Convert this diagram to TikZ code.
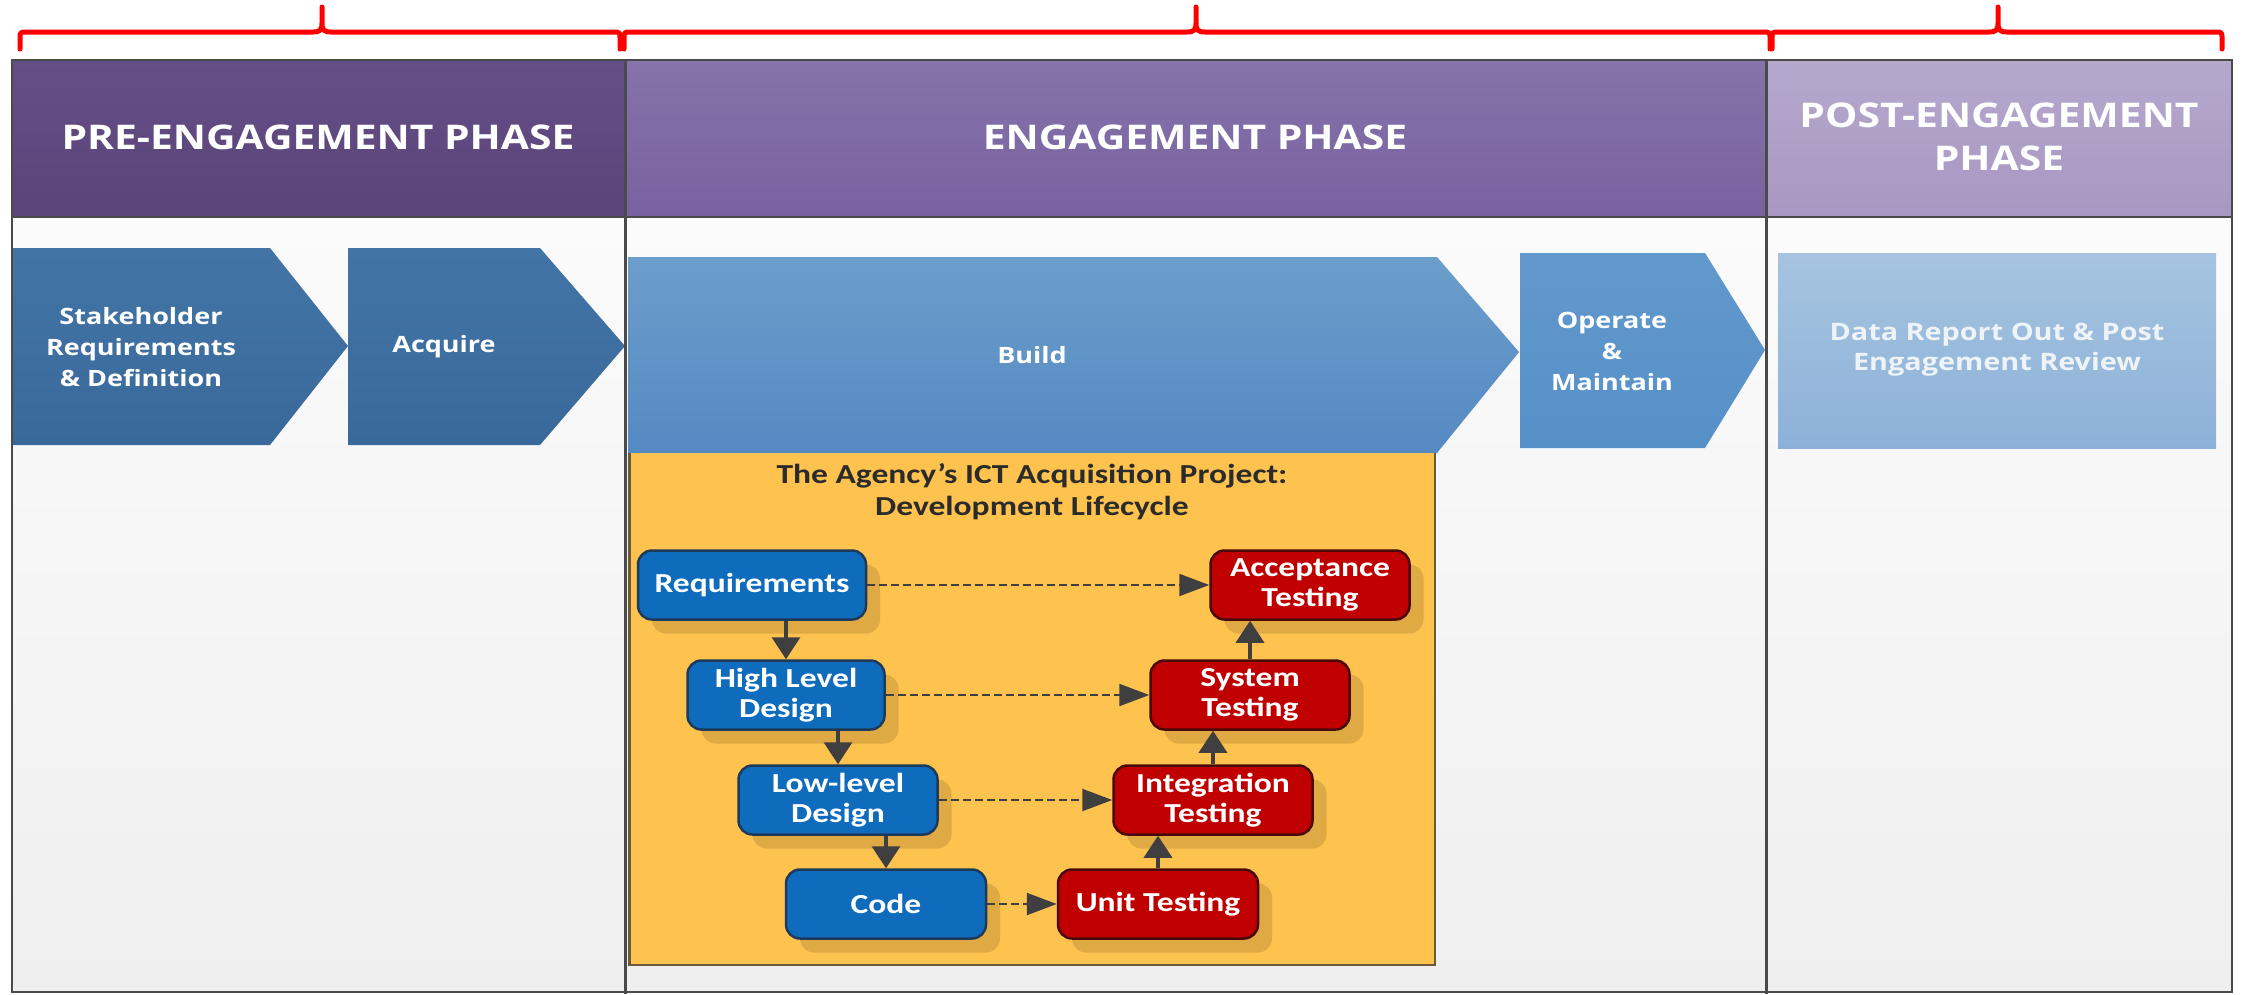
\documentclass[tikz,border=0pt]{standalone}
\usepackage{fontspec}
\usetikzlibrary{shadows,arrows.meta,calc}
\newfontfamily\phasefont[FakeStretch=1.2]{Open Sans}
\newfontfamily\lcfont[FakeStretch=1.22]{Carlito}
\definecolor{preTop}{HTML}{644E87}
\definecolor{preBot}{HTML}{5A4579}
\definecolor{engTop}{HTML}{8573AA}
\definecolor{engBot}{HTML}{7862A0}
\definecolor{postTop}{HTML}{B5A8CD}
\definecolor{postBot}{HTML}{A897C2}
\definecolor{framegray}{HTML}{4A4A4A}
\definecolor{stakeTop}{HTML}{4275A6}
\definecolor{stakeBot}{HTML}{39699A}
\definecolor{buildTop}{HTML}{6C9ECB}
\definecolor{buildBot}{HTML}{5589C2}
\definecolor{opTop}{HTML}{6299CC}
\definecolor{opBot}{HTML}{5690C8}
\definecolor{dataTop}{HTML}{A6C4E0}
\definecolor{dataBot}{HTML}{8CB1D8}
\definecolor{dataText}{HTML}{EEF3F8}
\definecolor{ybox}{HTML}{FEC24E}
\definecolor{yborder}{HTML}{6A5A3A}
\definecolor{lcblue}{HTML}{0F6CBD}
\definecolor{lcblueB}{HTML}{1E3A5A}
\definecolor{lcred}{HTML}{C00000}
\definecolor{lcredB}{HTML}{4A0A0A}
\definecolor{arrowgray}{HTML}{3F3F3F}
\definecolor{titlegray}{HTML}{2B2B2B}
\definecolor{bodyTop}{HTML}{FBFBFB}
\definecolor{bodyBot}{HTML}{EFEFEF}
\definecolor{bracered}{HTML}{FF0000}
\begin{document}
\begin{tikzpicture}[x=1pt,y=-1pt,
  phasehdr/.style={text=white, align=center, inner sep=0pt,
    font=\phasefont\bfseries\fontsize{34}{43}\selectfont},
  chevtext/.style={text=white, align=center, inner sep=0pt,
    font=\phasefont\bfseries\fontsize{22.5}{31}\selectfont},
  datatext/.style={text=dataText, align=center, inner sep=0pt,
    font=\phasefont\bfseries\fontsize{24}{30}\selectfont},
  lctitle/.style={text=titlegray, align=center, inner sep=0pt,
    font=\lcfont\bfseries\fontsize{27.5}{32}\selectfont},
  lcbox/.style={rounded corners=14pt, line width=2.5pt, text=white,
    align=center, inner sep=0pt, minimum height=69pt,
    font=\lcfont\bfseries\fontsize{27.5}{30}\selectfont,
    drop shadow={shadow xshift=14pt, shadow yshift=-14pt, opacity=0.12, fill=black}},
  bluebox/.style={lcbox, fill=lcblue, draw=lcblueB},
  redbox/.style={lcbox, fill=lcred, draw=lcredB},
  conn/.style={draw=arrowgray, line width=3.5pt, -{Triangle[length=22pt,width=28pt]}},
  dashconn/.style={draw=arrowgray, line width=2.2pt, dash pattern=on 8pt off 4pt,
    -{Triangle[length=30pt,width=22pt]}},
  redbrace/.style={draw=bracered, line width=5pt, line cap=round, line join=round},
  framestyle/.style={draw=framegray, line width=2.5pt},
]
\useasboundingbox (0,0) rectangle (2242,994);
\fill[white] (0,0) rectangle (2242,994);

% body background
\shade[top color=bodyTop, bottom color=bodyBot] (12,217) rectangle (2232,992);

% headers
\shade[top color=preTop, bottom color=preBot] (12,60) rectangle (625,217);
\shade[top color=engTop, bottom color=engBot] (625,60) rectangle (1766,217);
\shade[top color=postTop, bottom color=postBot] (1766,60) rectangle (2232,217);

% chevrons
\shade[top color=stakeTop, bottom color=stakeBot]
  (12,248) -- (270,248) -- (348,346) -- (270,445) -- (12,445) -- cycle;
\shade[top color=stakeTop, bottom color=stakeBot]
  (348,248) -- (540,248) -- (625,346) -- (540,445) -- (348,445) -- cycle;
\shade[top color=buildTop, bottom color=buildBot]
  (628,257) -- (1437,257) -- (1519,352) -- (1437,453) -- (628,453) -- cycle;
\shade[top color=opTop, bottom color=opBot]
  (1520,253) -- (1705,253) -- (1765,350) -- (1705,448) -- (1520,448) -- cycle;
\shade[top color=dataTop, bottom color=dataBot] (1778,253) rectangle (2216,448);

% yellow lifecycle box
\fill[ybox] (628,453) rectangle (1435,965);
\draw[draw=yborder, line width=1.5pt] (1435,453) -- (1435,965) -- (628,965);
\draw[draw=yborder, line width=3pt] (629,453) -- (629,965);

% frame and dividers
\draw[framestyle] (12,60) rectangle (2232,992);
\draw[framestyle] (12,217) -- (2232,217);
\draw[framestyle, line width=3pt] (625,60) -- (625,994);
\draw[framestyle, line width=3pt] (1766,60) -- (1766,994);

% header texts
\node[phasehdr] (preH) at (318,137) {PRE-ENGAGEMENT PHASE};
\node[phasehdr] (engH) at (1195,137) {ENGAGEMENT PHASE};
\node[phasehdr] (postH) at (1999,137) {POST-ENGAGEMENT\\PHASE};

% chevron texts
\node[chevtext] (stake) at (141,347) {Stakeholder\\Requirements\\\& Definition};
\node[chevtext] (acquire) at (444,347) {Acquire};
\node[chevtext] (build) at (1032,355) {Build};
\node[chevtext] (operate) at (1612,351) {Operate\\\&\\Maintain};
\node[datatext] (data) at (1997,350) {Data Report Out \& Post\\Engagement Review};

% lifecycle title
\node[lctitle] (title) at (1032,492) {The Agency’s ICT Acquisition Project:\\Development Lifecycle};

% lifecycle nodes
\node[bluebox, minimum width=228pt] (req) at (752,585) {Requirements};
\node[bluebox, minimum width=197pt] (hld) at (786,695) {High Level\\Design};
\node[bluebox, minimum width=199pt] (lld) at (838,800) {Low-level\\Design};
\node[bluebox, minimum width=200pt] (code) at (886,904) {Code};
\node[redbox, minimum width=200pt] (unit) at (1158,904) {Unit Testing};
\node[redbox, minimum width=199pt] (integ) at (1213,800) {Integration\\Testing};
\node[redbox, minimum width=199pt] (sys) at (1250,695) {System\\Testing};
\node[redbox, minimum width=199pt] (acc) at (1310,585) {Acceptance\\Testing};

% solid connectors
\draw[conn] (hld.north |- req.south) -- (hld.north);
\draw[conn] (lld.north |- hld.south) -- (lld.north);
\draw[conn] (code.north |- lld.south) -- (code.north);
\draw[conn] (unit.north) -- (unit.north |- integ.south);
\draw[conn] (integ.north) -- (integ.north |- sys.south);
\draw[conn] (sys.north) -- (sys.north |- acc.south);

% dashed connectors
\draw[dashconn] (req.east) -- (acc.west);
\draw[dashconn] (hld.east) -- (sys.west);
\draw[dashconn] (lld.east) -- (integ.west);
\draw[dashconn] (code.east) -- (unit.west);

% red braces
\foreach \xa/\xm/\xb in {20/322/620, 624/1196/1770, 1772/1998/2222}{
  \draw[redbrace] (\xa,49) -- (\xa,39) .. controls (\xa,32) .. (\xa+7,32)
    -- (\xm-9,32) .. controls (\xm-2,32) and (\xm,30) .. (\xm,23) -- (\xm,7)
    -- (\xm,23) .. controls (\xm,30) and (\xm+2,32) .. (\xm+9,32)
    -- (\xb-7,32) .. controls (\xb,32) .. (\xb,39) -- (\xb,49);
}
\end{tikzpicture}
\end{document}
